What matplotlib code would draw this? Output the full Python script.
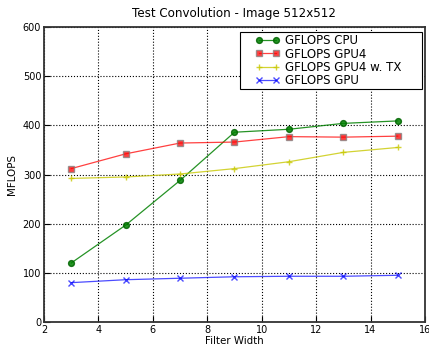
import matplotlib
matplotlib.use("Agg")
import matplotlib.pyplot as plt
from matplotlib.legend_handler import HandlerLine2D

filter_width = [3, 5, 7, 9, 11, 13, 15]
cpu = [120, 197, 288, 386, 392, 404, 409]
gpu4 = [312, 342, 364, 366, 377, 376, 378]
gpu4_tx = [292, 295, 301, 312, 326, 345, 355]
gpu = [80, 86, 89, 92, 93, 93, 95]

fig = plt.figure(figsize=(4.29, 3.45), dpi=100)
ax = fig.add_axes([0.1026, 0.0667, 0.888, 0.855])

l1, = ax.plot(filter_width, cpu, color="green", marker="o", markersize=4.2,
              linewidth=0.9, alpha=0.85, markeredgecolor="darkgreen", label="GFLOPS CPU")
l2, = ax.plot(filter_width, gpu4, color="red", marker="s", markersize=4.2,
              linewidth=0.9, alpha=0.75, markeredgecolor="gray", label="GFLOPS GPU4")
l3, = ax.plot(filter_width, gpu4_tx, color="#c8c800", marker="+", markersize=5,
              linewidth=0.9, alpha=0.8, label="GFLOPS GPU4 w. TX")
l4, = ax.plot(filter_width, gpu, color="blue", marker="x", markersize=4.2,
              linewidth=0.9, alpha=0.7, label="GFLOPS GPU")

ax.set_xlim(2, 16)
ax.set_ylim(0, 600)
ax.set_xticks(range(2, 17, 2))
ax.set_yticks(range(0, 601, 100))
ax.tick_params(direction="in", labelsize=7, length=4, pad=2)
ax.grid(True, color="black", linestyle=":", linewidth=0.8)
ax.set_xlabel("Filter Width", fontsize=7.4, labelpad=1)
ax.set_ylabel("MFLOPS", fontsize=7.4, labelpad=4)
ax.set_title("Test Convolution - Image 512x512", fontsize=8.6, pad=7)
for s in ax.spines.values():
    s.set_linewidth(1.3)
    s.set_color("#333333")

# wider legend box like the old matplotlib one
hmap = {h: HandlerLine2D(numpoints=2, xpad=1.07) for h in (l1, l2, l3, l4)}
leg = ax.legend(handler_map=hmap, loc="upper left", mode="expand",
                bbox_to_anchor=(0.5144, 0.983, 0.4777, 0), borderaxespad=0,
                fontsize=8.5, fancybox=False, framealpha=1, edgecolor="black",
                borderpad=0.2, labelspacing=0.02, handlelength=3.19,
                handletextpad=0.42)
leg.get_frame().set_linewidth(0.8)

fig.savefig("out.png", dpi=100)
